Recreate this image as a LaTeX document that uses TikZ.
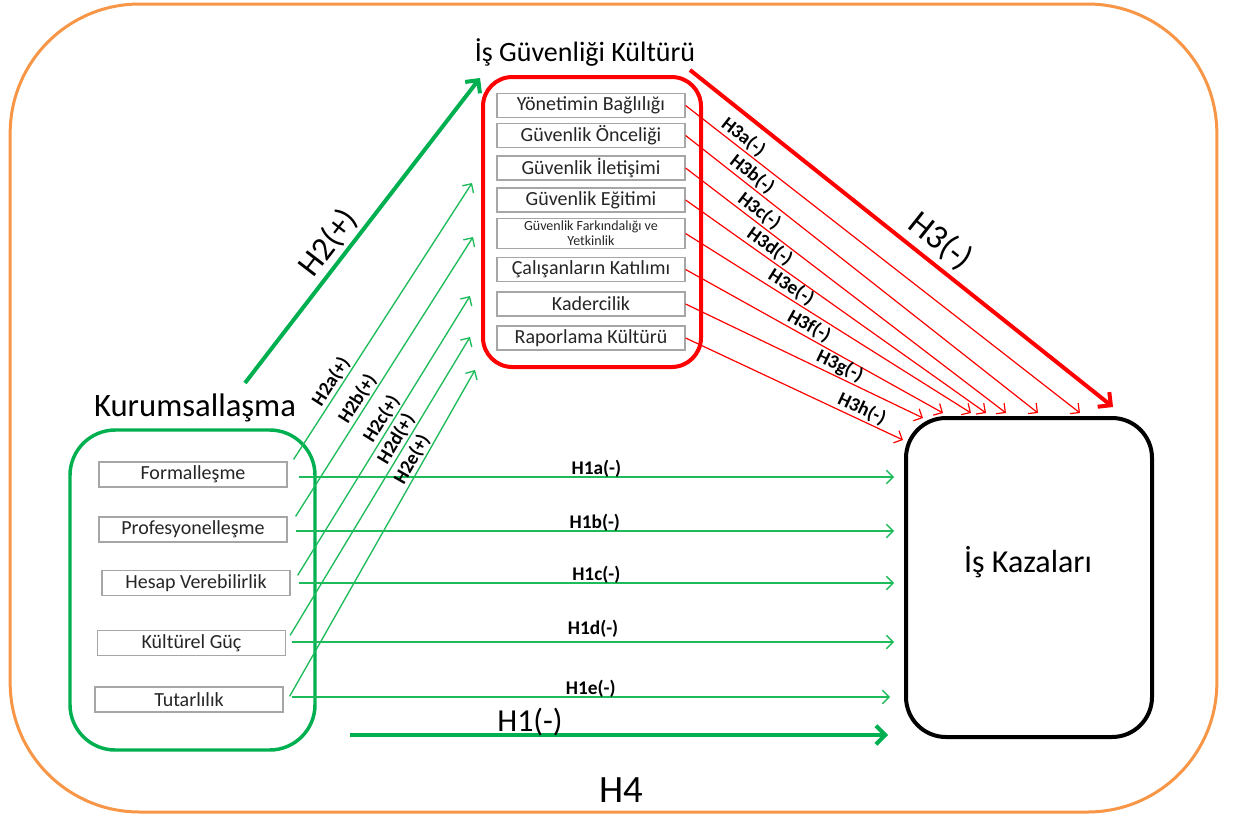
\documentclass[tikz,border=0pt]{standalone}
\usepackage{fontspec}
\setmainfont{Carlito}
\usetikzlibrary{arrows.meta}
\definecolor{orangeB}{HTML}{F79646}
\definecolor{greenB}{HTML}{00B050}
\definecolor{greenT}{HTML}{1DBB5A}
\definecolor{redB}{HTML}{FF0000}
\begin{document}
\begin{tikzpicture}[x=0.75pt,y=-0.75pt,
  ibox/.style={draw=gray!70, line width=0.9pt, fill=white, minimum width=141pt, minimum height=18pt, inner sep=0pt, text=black!85, font=\fontsize{15}{16}\selectfont},
  lbox/.style={ibox, font=\fontsize{15}{16}\selectfont, minimum height=18.75pt},
  tg/.style={draw=greenT, line width=1pt, -{Straight Barb[length=5pt,width=10pt]}},
  tr/.style={draw=redB, line width=0.9pt, -{Straight Barb[length=5pt,width=10pt]}},
  bg/.style={draw=greenB, line width=3pt, -{Straight Barb[length=7pt,width=14pt]}},
  br/.style={draw=redB, line width=3pt, -{Straight Barb[length=7pt,width=14pt]}},
  hl/.style={font=\bfseries\fontsize{14.5}{16}\selectfont, inner sep=1pt, text=black},
]
\useasboundingbox (0,0) rectangle (1234,814);

% outer frame
\node[draw=orangeB, line width=2.25pt, rounded corners=97pt, minimum width=905pt, minimum height=606pt, inner sep=0pt] (outer) at (613.5,408) {};

% safety culture group
\node[font=\fontsize{21}{24}\selectfont] (title) at (585,52) {İş Güvenliği Kültürü};
\node[draw=redB, line width=3pt, rounded corners=22pt, minimum width=163.5pt, minimum height=217.5pt, inner sep=0pt] (cult) at (592,222) {};
\node[ibox] (r1) at (591,105.5) {Yönetimin Bağlılığı};
\node[ibox] (r2) at (591,135.5) {Güvenlik Önceliği};
\node[ibox] (r3) at (591,168) {Güvenlik İletişimi};
\node[ibox] (r4) at (591,200) {Güvenlik Eğitimi};
\node[ibox, minimum height=22.5pt, align=center, font=\fontsize{10.5}{11}\selectfont] (r5) at (591,233.5) {Güvenlik Farkındalığı ve\\Yetkinlik};
\node[ibox] (r6) at (591,269.5) {Çalışanların Katılımı};
\node[ibox] (r7) at (591,304) {Kadercilik};
\node[ibox] (r8) at (591,338) {Raporlama Kültürü};

% institutionalisation group
\node[font=\fontsize{24.5}{28}\selectfont] (insttitle) at (195,408) {Kurumsallaşma};
\node[draw=greenB, line width=2.6pt, rounded corners=34pt, minimum width=183.75pt, minimum height=240pt, inner sep=0pt] (inst) at (192.5,590) {};
\node[lbox] (f1) at (193,474.5) {Formalleşme};
\node[lbox] (f2) at (193,529.5) {Profesyonelleşme};
\node[lbox] (f3) at (196,583) {Hesap Verebilirlik};
\node[lbox] (f4) at (191.5,643) {Kültürel Güç};
\node[lbox] (f5) at (189,699.5) {Tutarlılık};

% accidents
\node[draw=black, line width=3pt, rounded corners=30pt, minimum width=184.5pt, minimum height=239.25pt, inner sep=0pt] (kz) at (1029,577.5) {};
\node[font=\fontsize{24}{28}\selectfont] (kzt) at (1028,562) {İş Kazaları};

% H1 arrows
\draw[tg] ([shift={(11,2.5)}]f1.east) -- ([shift={(-10,2.5)}]f1.east -| kz.west) node[hl, midway, above=-2pt] (h1a) {H1a(-)};
\draw[tg] ([shift={(8,1.5)}]f2.east) -- ([shift={(-10,1.5)}]f2.east -| kz.west) node[hl, midway, above=-2pt] (h1b) {H1b(-)};
\draw[tg] ([shift={(8,0)}]f3.east) -- ([shift={(-10,0)}]f3.east -| kz.west) node[hl, midway, above=-2pt] (h1c) {H1c(-)};
\draw[tg] ([shift={(6,-1)}]f4.east) -- ([shift={(-10,-1)}]f4.east -| kz.west) node[hl, midway, above=2pt] (h1d) {H1d(-)};
\draw[tg] ([shift={(8,-2.5)}]f5.east) -- ([shift={(-14,-2.5)}]f5.east -| kz.west) node[hl, midway, above=-2pt] (h1e) {H1e(-)};

\coordinate (h1s) at (350,735);
\draw[bg] (h1s) -- ([xshift=-12pt]h1s -| kz.west);
\node[font=\fontsize{24}{28}\selectfont] (h1lab) at (530,722) {H1(-)};
\node[font=\fontsize{29}{32}\selectfont] (h4) at (621,790) {H4};

% H2 arrows
\coordinate (h2s) at (245,383);
\coordinate (h2e) at (480,78);
\draw[bg] (h2s) -- (h2e) node[pos=0.42, sloped, above=1pt, font=\fontsize{25}{28}\selectfont, inner sep=1pt] (h2lab) {H2(+)};

\coordinate (e2a) at (472,183);
\coordinate (e2b) at (473,237);
\coordinate (e2c) at (470,296);
\coordinate (e2d) at (470,337);
\coordinate (e2e) at (475,370);
\draw[tg] ([shift={(6,-2)}]f1.north east) -- (e2a) node[hl, pos=0.26, sloped, above] (h2a) {H2a(+)};
\draw[tg] ([shift={(8,0)}]f2.north east) -- (e2b) node[hl, pos=0.40, sloped, above] (h2b) {H2b(+)};
\draw[tg] ([shift={(7,5.5)}]f3.north east) -- (e2c) node[hl, pos=0.54, sloped, above] (h2c) {H2c(+)};
\draw[tg] ([shift={(4,5.5)}]f4.north east) -- (e2d) node[hl, pos=0.64, sloped, above] (h2d) {H2d(+)};
\draw[tg] ([shift={(6,10)}]f5.north east) -- (e2e) node[hl, pos=0.71, sloped, above] (h2e) {H2e(+)};

% H3 arrows
\coordinate (h3s) at (690,70);
\coordinate (h3e) at (1113,407);
\draw[br] (h3s) -- (h3e) node[pos=0.56, sloped, above=3pt, font=\fontsize{26}{28}\selectfont, inner sep=1pt] (h3lab) {H3(-)};

\coordinate (e3a) at ([shift={(176,-3)}]kz.north west);
\coordinate (e3b) at ([shift={(134,-3)}]kz.north west);
\coordinate (e3c) at ([shift={(102,-3)}]kz.north west);
\coordinate (e3d) at ([shift={(82,-3)}]kz.north west);
\coordinate (e3e) at ([shift={(67,-3)}]kz.north west);
\coordinate (e3f) at ([shift={(39,-3)}]kz.north west);
\coordinate (e3g) at ([shift={(19,2)}]kz.north west);
\coordinate (e3h) at ([shift={(-1,24)}]kz.north west);
\draw[tr] (r1.east) -- (e3a) node[hl, pos=0.13, sloped, above] (h3a) {H3a(-)};
\draw[tr] (r2.east) -- (e3b) node[hl, pos=0.17, sloped, above] (h3b) {H3b(-)};
\draw[tr] (r3.east) -- (e3c) node[hl, pos=0.21, sloped, above] (h3c) {H3c(-)};
\draw[tr] (r4.east) -- (e3d) node[hl, pos=0.26, sloped, above] (h3d) {H3d(-)};
\draw[tr] (r5.east) -- (e3e) node[hl, pos=0.35, sloped, above] (h3e) {H3e(-)};
\draw[tr] (r6.east) -- (e3f) node[hl, pos=0.46, sloped, above] (h3f) {H3f(-)};
\draw[tr] (r7.east) -- (e3g) node[hl, pos=0.63, sloped, above] (h3g) {H3g(-)};
\draw[tr] (r8.east) -- (e3h) node[hl, pos=0.79, sloped, above] (h3h) {H3h(-)};
\end{tikzpicture}
\end{document}
